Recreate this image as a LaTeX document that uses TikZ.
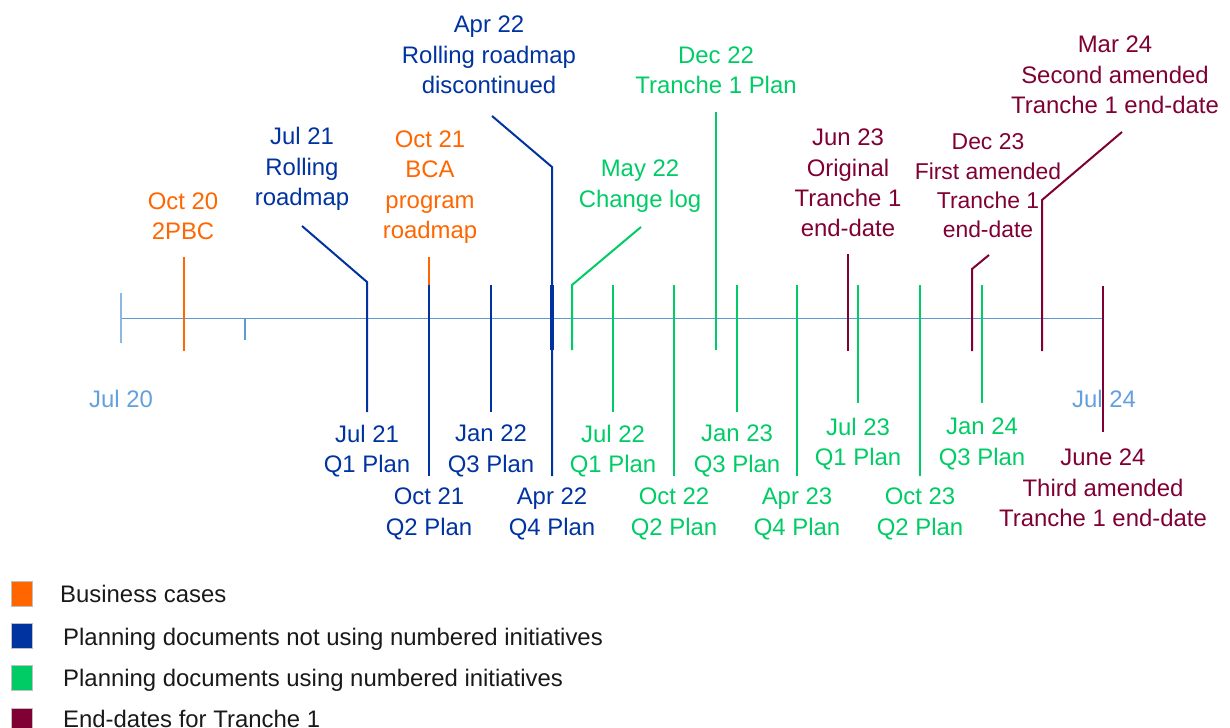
\documentclass[tikz,border=0pt]{standalone}
\usepackage{fontspec}
\setmainfont{Liberation Sans}
\definecolor{bcorange}{RGB}{255,102,0}
\definecolor{pblue}{RGB}{0,51,160}
\definecolor{pgreen}{RGB}{0,204,102}
\definecolor{tmaroon}{RGB}{128,0,51}
\definecolor{axisblue}{RGB}{91,155,213}
\definecolor{axislabel}{RGB}{100,160,220}
\begin{document}
\begin{tikzpicture}[x=1bp,y=-1bp,
  lbl/.style={align=center, inner sep=0pt, font=\fontsize{24}{30.5}\selectfont},
  lblsmall/.style={align=center, inner sep=0pt, font=\fontsize{23}{29.5}\selectfont},
  legtxt/.style={anchor=base west, inner sep=0pt, font=\fontsize{24}{28}\selectfont, text=black!90},
  legbox/.style={draw=black!25, line width=0.8bp, minimum width=21bp, minimum height=25bp, inner sep=0pt},
  tickline/.style={line width=2bp},
  thickline/.style={line width=3.6bp}]
\useasboundingbox (0,0) rectangle (1230,728);

% axis
\coordinate (a0) at (121,318);
\coordinate (a1) at (1103,318);
\draw[axisblue, line width=1bp] (a0) -- (a1);
\coordinate (l0) at (121,293); \coordinate (l1) at (121,343);
\draw[axisblue!70, line width=1.5bp] (l0) -- (l1);
\coordinate (s0) at (245,318); \coordinate (s1) at (245,340);
\draw[axisblue, line width=1.2bp] (s0) -- (s1);

\node[lbl, text=axislabel] (jul20) at (121,399) {Jul 20};
\node[lbl, text=axislabel] (jul24) at (1104,399) {Jul 24};

% orange: Oct 20
\coordinate (o20a) at (184,257); \coordinate (o20b) at (184,351);
\draw[bcorange, tickline] (o20a) -- (o20b);
\node[lbl, text=bcorange] (oct20) at (183,216) {Oct 20\\2PBC};

% blue: Jul 21
\coordinate (j21l) at (302,226); \coordinate (j21a) at (367,282); \coordinate (j21b) at (367,412);
\draw[pblue, tickline] (j21l) -- (j21a) -- (j21b);
\node[lbl, text=pblue] (jul21t) at (302,169) {Jul 21\\Rolling\\roadmap};
\node[lbl, text=pblue] (jul21b) at (367,451) {Jul 21\\Q1 Plan};

% Oct 21
\coordinate (o21a) at (429,257); \coordinate (o21m) at (429,285); \coordinate (o21b) at (429,476);
\draw[bcorange, tickline] (o21a) -- (o21m);
\draw[pblue, tickline] (o21m) -- (o21b);
\node[lbl, text=bcorange] (oct21t) at (430,187) {Oct 21\\BCA\\program\\roadmap};
\node[lbl, text=pblue] (oct21b) at (429,514) {Oct 21\\Q2 Plan};

% Jan 22
\coordinate (j22a) at (491,285); \coordinate (j22b) at (491,412);
\draw[pblue, tickline] (j22a) -- (j22b);
\node[lbl, text=pblue] (jan22) at (491,451) {Jan 22\\Q3 Plan};

% Apr 22
\coordinate (a22l) at (492,116); \coordinate (a22a) at (552,167); \coordinate (a22b) at (552,476);
\coordinate (a22c) at (552,285); \coordinate (a22d) at (552,350);
\draw[pblue, tickline] (a22l) -- (a22a) -- (a22b);
\draw[pblue, thickline] (a22c) -- (a22d);
\node[lbl, text=pblue] (apr22t) at (489,55) {Apr 22\\Rolling roadmap\\discontinued};
\node[lbl, text=pblue] (apr22b) at (552,514) {Apr 22\\Q4 Plan};

% green: May 22
\coordinate (m22l) at (641,227); \coordinate (m22a) at (572,285); \coordinate (m22b) at (572,350);
\draw[pgreen, tickline] (m22l) -- (m22a) -- (m22b);
\node[lbl, text=pgreen] (may22) at (640,186) {May 22\\Change log};

% Jul 22
\coordinate (jl22a) at (613,285); \coordinate (jl22b) at (613,412);
\draw[pgreen, tickline] (jl22a) -- (jl22b);
\node[lbl, text=pgreen] (jul22) at (613,451) {Jul 22\\Q1 Plan};

% Oct 22
\coordinate (oc22a) at (674,285); \coordinate (oc22b) at (674,476);
\draw[pgreen, tickline] (oc22a) -- (oc22b);
\node[lbl, text=pgreen] (oct22) at (674,514) {Oct 22\\Q2 Plan};

% Dec 22
\coordinate (d22a) at (716,112); \coordinate (d22b) at (716,350);
\draw[pgreen, tickline] (d22a) -- (d22b);
\node[lbl, text=pgreen] (dec22) at (716,70) {Dec 22\\Tranche 1 Plan};

% Jan 23
\coordinate (j23a) at (737,285); \coordinate (j23b) at (737,412);
\draw[pgreen, tickline] (j23a) -- (j23b);
\node[lbl, text=pgreen] (jan23) at (737,451) {Jan 23\\Q3 Plan};

% Apr 23
\coordinate (ap23a) at (797,285); \coordinate (ap23b) at (797,476);
\draw[pgreen, tickline] (ap23a) -- (ap23b);
\node[lbl, text=pgreen] (apr23) at (797,514) {Apr 23\\Q4 Plan};

% Jun 23 (maroon)
\coordinate (jn23a) at (848,254); \coordinate (jn23b) at (848,351);
\draw[tmaroon, tickline] (jn23a) -- (jn23b);
\node[lbl, text=tmaroon] (jun23) at (848,183) {Jun 23\\Original\\Tranche 1\\end-date};

% Jul 23
\coordinate (jl23a) at (858,285); \coordinate (jl23b) at (858,403);
\draw[pgreen, tickline] (jl23a) -- (jl23b);
\node[lbl, text=pgreen] (jul23) at (858,444) {Jul 23\\Q1 Plan};

% Oct 23
\coordinate (oc23a) at (920,285); \coordinate (oc23b) at (920,476);
\draw[pgreen, tickline] (oc23a) -- (oc23b);
\node[lbl, text=pgreen] (oct23) at (920,514) {Oct 23\\Q2 Plan};

% Dec 23 (maroon)
\coordinate (d23l) at (989,255); \coordinate (d23a) at (972,269); \coordinate (d23b) at (972,351);
\draw[tmaroon, tickline] (d23l) -- (d23a) -- (d23b);
\node[lblsmall, text=tmaroon] (dec23) at (988,186) {Dec 23\\First amended\\Tranche 1\\end-date};

% Jan 24
\coordinate (j24a) at (982,285); \coordinate (j24b) at (982,403);
\draw[pgreen, tickline] (j24a) -- (j24b);
\node[lbl, text=pgreen] (jan24) at (982,444) {Jan 24\\Q3 Plan};

% Mar 24 (maroon)
\coordinate (m24l) at (1122,132); \coordinate (m24a) at (1042,200); \coordinate (m24b) at (1042,351);
\draw[tmaroon, tickline] (m24l) -- (m24a) -- (m24b);
\node[lbl, text=tmaroon] (mar24) at (1115,75) {Mar 24\\Second amended\\Tranche 1 end-date};

% Jun 24 (maroon)
\coordinate (jn24a) at (1103,286); \coordinate (jn24b) at (1103,432);
\draw[tmaroon, tickline] (jn24a) -- (jn24b);
\node[lbl, text=tmaroon] (jun24) at (1103,488) {June 24\\Third amended\\Tranche 1 end-date};

% legend
\node[legbox, fill=bcorange] (k1) at (21.5,593.5) {};
\node[legtxt] (k1t) at (60,602) {Business cases};
\node[legbox, fill=pblue] (k2) at (21.5,636) {};
\node[legtxt] (k2t) at (63,645) {Planning documents not using numbered initiatives};
\node[legbox, fill=pgreen] (k3) at (21.5,678) {};
\node[legtxt] (k3t) at (63,686) {Planning documents using numbered initiatives};
\node[legbox, fill=tmaroon] (k4) at (21.5,721) {};
\node[legtxt] (k4t) at (63,727) {End-dates for Tranche 1};
\end{tikzpicture}
\end{document}
